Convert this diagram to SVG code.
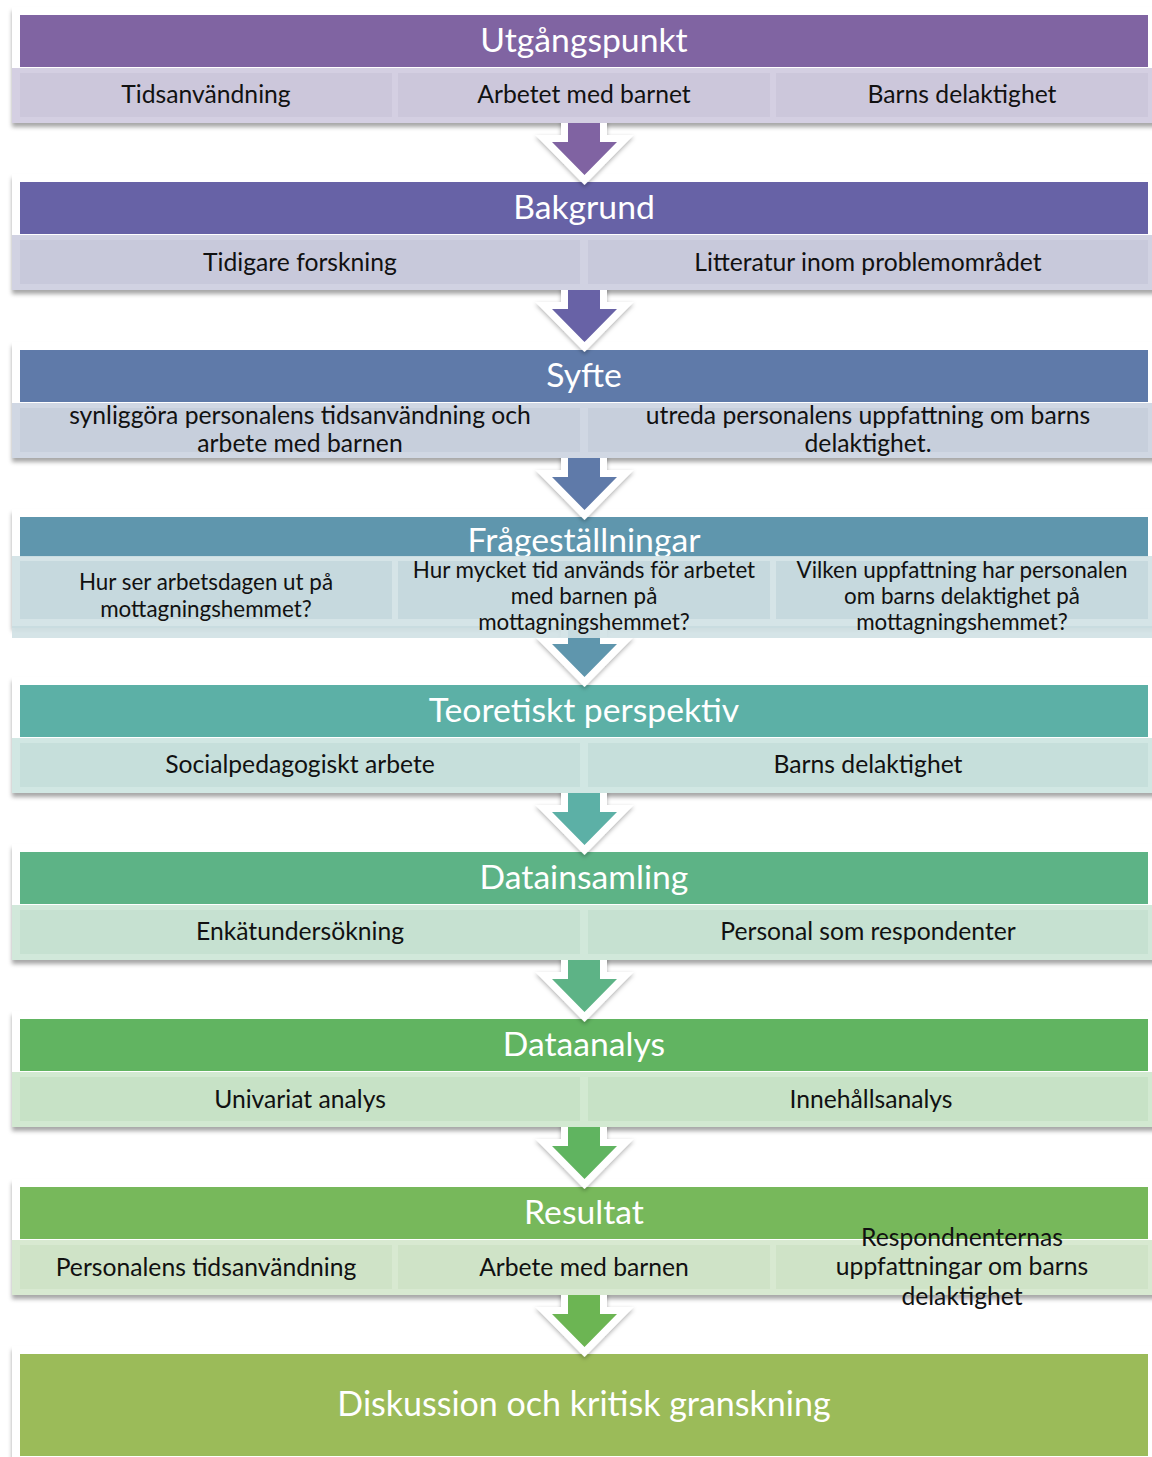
<svg xmlns="http://www.w3.org/2000/svg" width="1152" height="1457" viewBox="0 0 1152 1457">
<style>
.panel{fill:#fff;filter:url(#sh)}
.hd{font-family:Lato,"Open Sans",sans-serif;font-size:33.7px;fill:#fff;text-anchor:middle}
.ct{font-family:Lato,"Open Sans",sans-serif;font-size:24.7px;fill:#111;text-anchor:middle}
.cs{font-family:Lato,"Open Sans",sans-serif;font-size:22.4px;fill:#111;text-anchor:middle}
.arr{stroke:#fff;stroke-width:14;stroke-linejoin:miter;paint-order:stroke;filter:url(#ash)}
</style>
<defs>
<filter id="sh" x="-5%" y="-10%" width="110%" height="130%">
<feDropShadow dx="0" dy="4" stdDeviation="2" flood-color="#000" flood-opacity="0.35"/>
</filter>
<filter id="ash" x="-30%" y="-30%" width="160%" height="160%">
<feDropShadow dx="0" dy="2" stdDeviation="2" flood-color="#000" flood-opacity="0.3"/>
</filter>
</defs>
<rect width="1152" height="1457" fill="#fff"/>

<!-- panels and headers -->
<g id="stage1">
<rect class="panel" x="12" y="7" width="1150" height="116"/>
<rect x="20" y="15" width="1128" height="52" fill="#8064A2"/>
</g>
<g id="stage2">
<rect class="panel" x="12" y="174" width="1150" height="116"/>
<rect x="20" y="182" width="1128" height="52" fill="#6762A6"/>
</g>
<g id="stage3">
<rect class="panel" x="12" y="342" width="1150" height="116"/>
<rect x="20" y="350" width="1128" height="52" fill="#5F7AA9"/>
</g>
<g id="stage4">
<rect class="panel" x="12" y="509" width="1150" height="118"/>
<rect x="20" y="517" width="1128" height="40" fill="#5F96AD"/>
</g>
<g id="stage5">
<rect class="panel" x="12" y="677" width="1150" height="116"/>
<rect x="20" y="685" width="1128" height="52" fill="#5CB0A6"/>
</g>
<g id="stage6">
<rect class="panel" x="12" y="844" width="1150" height="116"/>
<rect x="20" y="852" width="1128" height="52" fill="#5DB386"/>
</g>
<g id="stage7">
<rect class="panel" x="12" y="1011" width="1150" height="116"/>
<rect x="20" y="1019" width="1128" height="52" fill="#61B461"/>
</g>
<g id="stage8">
<rect class="panel" x="12" y="1179" width="1150" height="116"/>
<rect x="20" y="1187" width="1128" height="52" fill="#77B85B"/>
</g>
<g id="stage9">
<rect class="panel" x="12" y="1346" width="1150" height="120"/>
<rect x="20" y="1354" width="1128" height="102" fill="#9BBB59"/>
<text class="hd" x="584" y="1416" style="font-size:34px">Diskussion och kritisk granskning</text>
</g>

<!-- connectors -->
<g id="connectors">
<path class="arr" fill="#8064A2" d="M568,110 H600 V142 H617 L584.5,175 L552,142 H568 Z"/>
<path class="arr" fill="#6762A6" d="M568,277 H600 V309 H617 L584.5,342 L552,309 H568 Z"/>
<path class="arr" fill="#5F7AA9" d="M568,445 H600 V477 H617 L584.5,510 L552,477 H568 Z"/>
<path class="arr" fill="#5F96AD" d="M568,620 H600 V644 H617 L584.5,677 L552,644 H568 Z"/>
<path class="arr" fill="#5CB0A6" d="M568,780 H600 V812 H617 L584.5,845 L552,812 H568 Z"/>
<path class="arr" fill="#5DB386" d="M568,947 H600 V979 H617 L584.5,1012 L552,979 H568 Z"/>
<path class="arr" fill="#61B461" d="M568,1114 H600 V1146 H617 L584.5,1179 L552,1146 H568 Z"/>
<path class="arr" fill="#6CB553" d="M568,1282 H600 V1314 H617 L584.5,1347 L552,1314 H568 Z"/>
</g>

<!-- cell rows -->
<g id="stage1-cells">
<rect x="12" y="68" width="1140" height="55" fill="#D4CFE2"/>
<rect x="20" y="73" width="372" height="44" fill="#CCC7DB"/>
<rect x="398" y="73" width="372" height="44" fill="#CCC7DB"/>
<rect x="776" y="73" width="372" height="44" fill="#CCC7DB"/>
<text class="hd" x="584" y="52">Utgångspunkt</text>
<text class="ct" x="206" y="103">Tidsanvändning</text>
<text class="ct" x="584" y="103">Arbetet med barnet</text>
<text class="ct" x="962" y="103">Barns delaktighet</text>
</g>
<g id="stage2-cells">
<rect x="12" y="235" width="1140" height="55" fill="#D1D2E2"/>
<rect x="20" y="240" width="560" height="44" fill="#C8C9DB"/>
<rect x="588" y="240" width="560" height="44" fill="#C8C9DB"/>
<text class="hd" x="584" y="219">Bakgrund</text>
<text class="ct" x="300" y="271">Tidigare forskning</text>
<text class="ct" x="868" y="271">Litteratur inom problemområdet</text>
</g>
<g id="stage3-cells">
<rect x="12" y="403" width="1140" height="55" fill="#D0D7E3"/>
<rect x="20" y="408" width="560" height="44" fill="#C7CFDC"/>
<rect x="588" y="408" width="560" height="44" fill="#C7CFDC"/>
<text class="hd" x="584" y="387">Syfte</text>
<text class="ct" x="300" y="424">synliggöra personalens tidsanvändning och</text>
<text class="ct" x="300" y="452">arbete med barnen</text>
<text class="ct" x="868" y="424">utreda personalens uppfattning om barns</text>
<text class="ct" x="868" y="452">delaktighet.</text>
</g>
<g id="stage4-cells">
<text class="hd" x="584" y="552">Frågeställningar</text>
<rect x="12" y="556" width="1140" height="82" fill="#D1E2E5" fill-opacity="0.92"/>
<rect x="20" y="561" width="372" height="58" fill="#C6D9DE"/>
<rect x="398" y="561" width="372" height="58" fill="#C6D9DE"/>
<rect x="776" y="561" width="372" height="58" fill="#C6D9DE"/>
<rect x="12" y="626" width="1140" height="2" fill="#C9DCE0"/>
<text class="cs" x="206" y="590">Hur ser arbetsdagen ut på</text>
<text class="cs" x="206" y="617">mottagningshemmet?</text>
<text class="cs" x="584" y="578">Hur mycket tid används för arbetet</text>
<text class="cs" x="584" y="604">med barnen på</text>
<text class="cs" x="584" y="630">mottagningshemmet?</text>
<text class="cs" x="962" y="578">Vilken uppfattning har personalen</text>
<text class="cs" x="962" y="604">om barns delaktighet på</text>
<text class="cs" x="962" y="630">mottagningshemmet?</text>
</g>
<g id="stage5-cells">
<rect x="12" y="738" width="1140" height="55" fill="#D1E7E3"/>
<rect x="20" y="743" width="560" height="44" fill="#C6DFDB"/>
<rect x="588" y="743" width="560" height="44" fill="#C6DFDB"/>
<text class="hd" x="584" y="722">Teoretiskt perspektiv</text>
<text class="ct" x="300" y="773">Socialpedagogiskt arbete</text>
<text class="ct" x="868" y="773">Barns delaktighet</text>
</g>
<g id="stage6-cells">
<rect x="12" y="905" width="1140" height="55" fill="#D1E8DA"/>
<rect x="20" y="910" width="560" height="44" fill="#C6E1D1"/>
<rect x="588" y="910" width="560" height="44" fill="#C6E1D1"/>
<text class="hd" x="584" y="889">Datainsamling</text>
<text class="ct" x="300" y="940">Enkätundersökning</text>
<text class="ct" x="868" y="940">Personal som respondenter</text>
</g>
<g id="stage7-cells">
<rect x="12" y="1072" width="1140" height="55" fill="#D2E9D1"/>
<rect x="20" y="1077" width="560" height="44" fill="#C7E2C6"/>
<rect x="588" y="1077" width="560" height="44" fill="#C7E2C6"/>
<text class="hd" x="584" y="1056">Dataanalys</text>
<text class="ct" x="300" y="1108">Univariat analys</text>
<text class="ct" x="871" y="1108">Innehållsanalys</text>
</g>
<g id="stage8-cells">
<rect x="12" y="1240" width="1140" height="55" fill="#D8E9D1"/>
<rect x="20" y="1245" width="372" height="44" fill="#CFE3C7"/>
<rect x="398" y="1245" width="372" height="44" fill="#CFE3C7"/>
<rect x="776" y="1245" width="372" height="44" fill="#CFE3C7"/>
<text class="hd" x="584" y="1224">Resultat</text>
<text class="ct" x="206" y="1276">Personalens tidsanvändning</text>
<text class="ct" x="584" y="1276">Arbete med barnen</text>
<text class="ct" x="962" y="1246">Respondnenternas</text>
<text class="ct" x="962" y="1275">uppfattningar om barns</text>
<text class="ct" x="962" y="1305">delaktighet</text>
</g>
</svg>
